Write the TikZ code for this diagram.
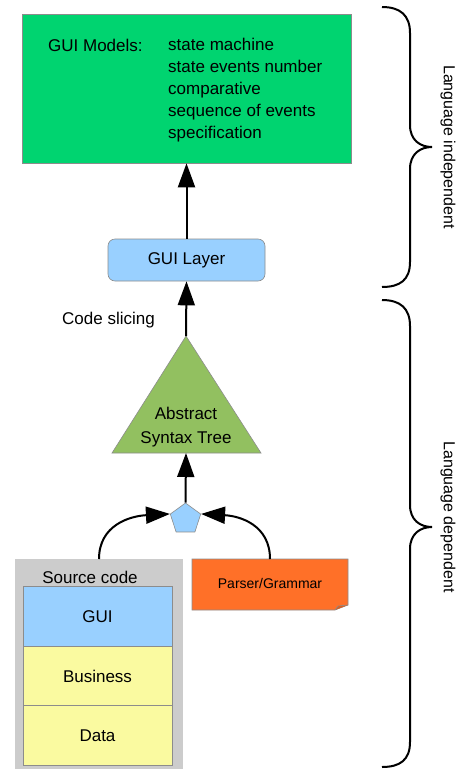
\documentclass[tikz,border=0pt]{standalone}
\usepackage{fontspec}
\setmainfont{Liberation Sans}
\usetikzlibrary{shapes.geometric,arrows.meta}
\definecolor{boxgreen}{RGB}{0,212,112}
\definecolor{laybl}{RGB}{153,208,255}
\definecolor{astgreen}{RGB}{146,192,96}
\definecolor{parorange}{RGB}{255,112,40}
\definecolor{srcgray}{RGB}{204,204,204}
\definecolor{ylw}{RGB}{250,250,160}
\definecolor{edge}{RGB}{140,140,140}
\tikzset{
  flow/.style={line width=2pt,-{Triangle[length=24pt,width=17pt]}},
  lbl/.style={font=\fontsize{17}{22}\selectfont,inner sep=0pt},
  layer/.style={draw=edge,line width=0.6pt,minimum width=149pt,minimum height=59.5pt,inner sep=0pt,font=\fontsize{17}{20}\selectfont},
  bracepath/.style={line width=2pt}
}
\begin{document}
\begin{tikzpicture}[x=1pt,y=-1pt]
\useasboundingbox (0,0) rectangle (461,769);
% GUI models box
\node[draw=edge,line width=0.6pt,fill=boxgreen,minimum width=329pt,minimum height=149pt,inner sep=0pt] (gm) at (186.5,88.5) {};
\node[lbl,anchor=west] (gmt) at (48,45) {GUI Models:};
\node[lbl,anchor=north west,align=left] (gml) at (168,38) {state machine\\state events number\\comparative\\sequence of events\\specification};
% GUI layer
\node[draw=edge,line width=0.6pt,fill=laybl,rounded corners=7pt,minimum width=157pt,minimum height=42pt,inner sep=0pt,font=\fontsize{17}{20}\selectfont] (gl) at (186.5,260) {GUI Layer};
% AST triangle
\coordinate (astA) at (186,336);
\coordinate (astB) at (186,453);
\fill[astgreen] (186,336) -- (261,453) -- (112,453) -- cycle;
\draw[edge,line width=0.6pt] (186,336) -- (261,453) -- (112,453) -- cycle;
\node[font=\fontsize{17}{24}\selectfont,inner sep=0pt,align=center] (ast) at (186,427) {Abstract\\Syntax Tree};
% pentagon
\node[regular polygon,regular polygon sides=5,draw=edge,line width=0.6pt,fill=laybl,minimum size=32pt,inner sep=0pt] (pent) at (185.5,519) {};
% source code
\fill[srcgray] (15,559) rectangle (183,772);
\coordinate (srcT) at (99,559);
\node[lbl] (srct) at (90,577) {Source code};
\node[layer,fill=laybl] (lgui) at (97.5,616.5) {GUI};
\node[layer,fill=ylw] (lbus) at (97.5,676) {Business};
\node[layer,fill=ylw] (ldat) at (97.5,735.5) {Data};
% parser/grammar note
\fill[parorange] (192,559) -- (348,559) -- (348,605) -- (335,610) -- (192,610) -- cycle;
\draw[edge,line width=0.6pt] (192,559) -- (348,559) -- (348,605) -- (335,610) -- (192,610) -- cycle;
\draw[edge,line width=0.6pt,fill=parorange!85!black] (348,605) -- (338,606) -- (335,610);
\coordinate (parT) at (270,559);
\node[font=\fontsize{14}{16}\selectfont,inner sep=0pt] (part) at (270,583) {Parser/Grammar};
% arrows
\draw[flow] (gl.north) -- (gm.south);
\draw[flow] (astA) -- (gl.south);
\draw[flow] (pent.corner 1) -- (astB);
\draw[flow] (srcT) .. controls (99,525) and (130,516) .. (pent.corner 2);
\draw[flow] (parT) .. controls (270,525) and (240,516) .. (pent.corner 5);
% code slicing label
\node[lbl,anchor=west] (cs) at (62,320) {Code slicing};
% braces
\draw[bracepath] (382,7) .. controls (400,7) and (410,15) .. (410,33) -- (410,125) .. controls (410,140) and (420,147) .. (432,147) .. controls (420,147) and (410,154) .. (410,169) -- (410,262) .. controls (410,280) and (400,287) .. (382,287);
\draw[bracepath] (382,300) .. controls (400,300) and (410,308) .. (410,326) -- (410,505) .. controls (410,520) and (420,527) .. (432,527) .. controls (420,527) and (410,534) .. (410,549) -- (410,742) .. controls (410,760) and (400,767) .. (382,767);
\node[font=\fontsize{16}{18}\selectfont,rotate=-90,inner sep=0pt] (li) at (448,147) {Language independent};
\node[font=\fontsize{16}{18}\selectfont,rotate=-90,inner sep=0pt] (ld) at (448,517) {Language dependent};
\end{tikzpicture}
\end{document}
